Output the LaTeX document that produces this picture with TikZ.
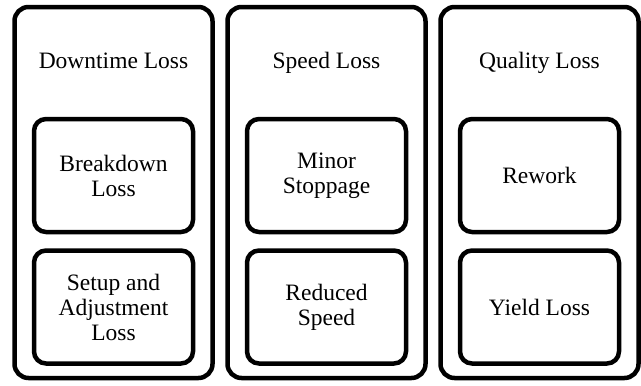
\documentclass[tikz,border=0pt]{standalone}
\usepackage{fontspec}
\setmainfont{Liberation Serif}
\begin{document}
\begin{tikzpicture}[x=1pt,y=-1pt,
  group/.style={draw=black, line width=4.5pt, rounded corners=14pt,
    minimum width=198pt, minimum height=371pt, inner sep=0pt},
  item/.style={draw=black, line width=4.5pt, rounded corners=12pt,
    minimum width=159pt, minimum height=113pt, inner sep=0pt,
    align=center, font=\fontsize{23.5}{25}\selectfont},
  title/.style={anchor=base, inner sep=0pt, font=\fontsize{23.5}{25}\selectfont}]
  \useasboundingbox (0,0) rectangle (641,386);

  % loss categories
  \node[group] (downtime) at (113.5,192.5) {};
  \node[group] (speed)    at (326.5,192.5) {};
  \node[group] (quality)  at (539.5,192.5) {};

  \node[title] (downtimeT) at (113.5,68) {Downtime Loss};
  \node[title] (speedT)    at (326.5,68) {Speed Loss};
  \node[title] (qualityT)  at (539.5,68) {Quality Loss};

  % individual losses
  \node[item] (breakdown) at (113.5,175.5) {Breakdown\\Loss};
  \node[item] (setup)     at (113.5,307)   {Setup and\\Adjustment\\Loss};
  \node[item] (minor)     at (326.5,175.5) {Minor\\Stoppage};
  \node[item] (reduced)   at (326.5,307)   {Reduced\\Speed};
  \node[item] (rework)    at (539.5,175.5) {Rework};
  \node[item] (yield)     at (539.5,307)   {Yield Loss};
\end{tikzpicture}
\end{document}
